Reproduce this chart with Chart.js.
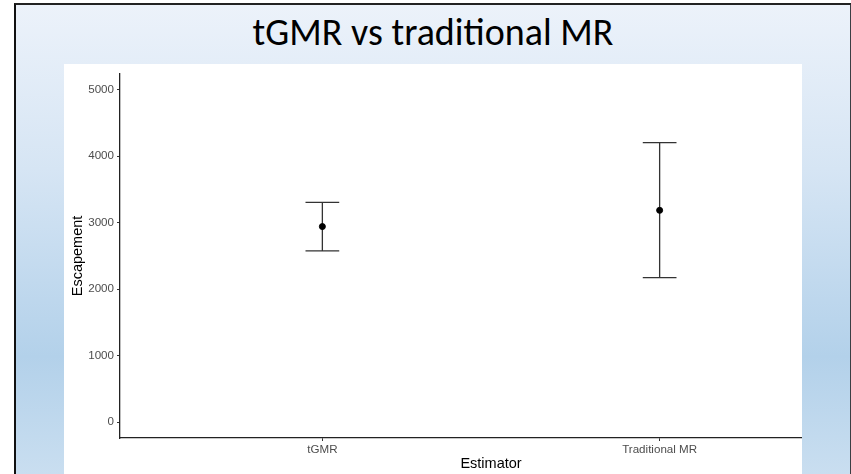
<!DOCTYPE html>
<html>
<head>
<meta charset="utf-8">
<script src="https://cdn.jsdelivr.net/npm/chart.js@4"></script>
<style>
    html, body { margin: 0; padding: 0; background: #fff; }
    body { width: 851px; height: 474px; position: relative; overflow: hidden; }
    #slide {
        position: absolute; left: 14px; top: 3px; width: 834px; height: 469px;
        border-left: 2px solid #111; border-top: 2px solid #222; border-right: 2px solid #3a3f44;
        border-bottom: 1px solid #9aa3ab;
        background: linear-gradient(to bottom, #ecf2fa 0%, #d6e5f4 35%, #b3d1ea 75%, #c9def0 100%);
    }
    #title {
        position: absolute; left: 0; top: 4px; width: 834px; text-align: center;
        font-family: Carlito, "Liberation Sans Narrow", Lato, sans-serif; font-size: 38px; color: #000;
    }
    #panel {
        position: absolute; left: 48px; top: 59px; width: 738px; height: 410px;
        background: #fff; overflow: hidden;
    }
    #wrap { position: absolute; left: 0; top: 0; width: 802px; height: 410px; }
</style>
</head>
<body>
<div id="slide">
    <div id="title">tGMR vs traditional MR</div>
    <div id="panel"><div id="wrap"><canvas id="chart"></canvas></div></div>
</div>
<script>
const categories = ["tGMR", "Traditional MR"];
const estimates = [2940, 3184];
const lower = [2575, 2171];
const upper = [3304, 4202];
const yTicks = [0, 1000, 2000, 3000, 4000, 5000];

const capHalfWidth = 0.05;

const errorBars = {
    id: "errorBars",
    beforeDatasetsDraw(chart) {
        const ctx = chart.ctx;
        const xs = chart.scales.x;
        const ys = chart.scales.y;
        ctx.save();
        ctx.strokeStyle = "#333";
        ctx.lineWidth = 1.3;
        categories.forEach((c, i) => {
            const x = xs.getPixelForValue(i + 1);
            const xl = xs.getPixelForValue(i + 1 - capHalfWidth);
            const xr = xs.getPixelForValue(i + 1 + capHalfWidth);
            const yl = ys.getPixelForValue(lower[i]);
            const yh = ys.getPixelForValue(upper[i]);
            ctx.beginPath();
            ctx.moveTo(x, yl); ctx.lineTo(x, yh);
            ctx.moveTo(xl, yl); ctx.lineTo(xr, yl);
            ctx.moveTo(xl, yh); ctx.lineTo(xr, yh);
            ctx.stroke();
        });
        ctx.restore();
    }
};

const ctx = document.getElementById("chart").getContext("2d");
new Chart(ctx, {
    type: "scatter",
    data: {
        datasets: [{
            data: estimates.map((v, i) => ({ x: i + 1, y: v })),
            backgroundColor: "#000",
            borderColor: "#000",
            pointRadius: 3,
            pointHoverRadius: 3
        }]
    },
    options: {
        responsive: true,
        maintainAspectRatio: false,
        animation: false,
        layout: { padding: { top: 9, right: 1, left: 1, bottom: 0 } },
        plugins: { legend: { display: false }, tooltip: { enabled: false } },
        scales: {
            x: {
                type: "linear",
                min: 0.4,
                max: 2.6,
                afterBuildTicks: s => { s.ticks = categories.map((c, i) => ({ value: i + 1 })); },
                afterFit: s => { s.height = 36; },
                ticks: {
                    callback: v => categories[v - 1],
                    color: "#4d4d4d",
                    font: { family: "Liberation Sans", size: 11.6 },
                    padding: 2,
                    maxRotation: 0
                },
                grid: { display: true, drawOnChartArea: false, drawTicks: true, tickLength: 3, tickColor: "#333", tickWidth: 1 },
                border: { display: true, color: "#222", width: 1.3 },
                title: {
                    display: true, text: "Estimator", color: "#000",
                    font: { family: "Liberation Sans", size: 14.5 },
                    padding: { top: 0, bottom: 1 }
                }
            },
            y: {
                min: -240,
                max: 5235,
                afterBuildTicks: s => { s.ticks = yTicks.map(v => ({ value: v })); },
                afterFit: s => { s.width = 55; },
                ticks: {
                    callback: v => String(v),
                    color: "#4d4d4d",
                    font: { family: "Liberation Sans", size: 11.6 },
                    padding: 3
                },
                grid: { display: true, drawOnChartArea: false, drawTicks: true, tickLength: 3, tickColor: "#333", tickWidth: 1 },
                border: { display: true, color: "#222", width: 1.3 },
                title: {
                    display: true, text: "Escapement", color: "#000",
                    font: { family: "Liberation Sans", size: 14.5 },
                    padding: { top: 4, bottom: 0 }
                }
            }
        }
    },
    plugins: [errorBars]
});
</script>
</body>
</html>
